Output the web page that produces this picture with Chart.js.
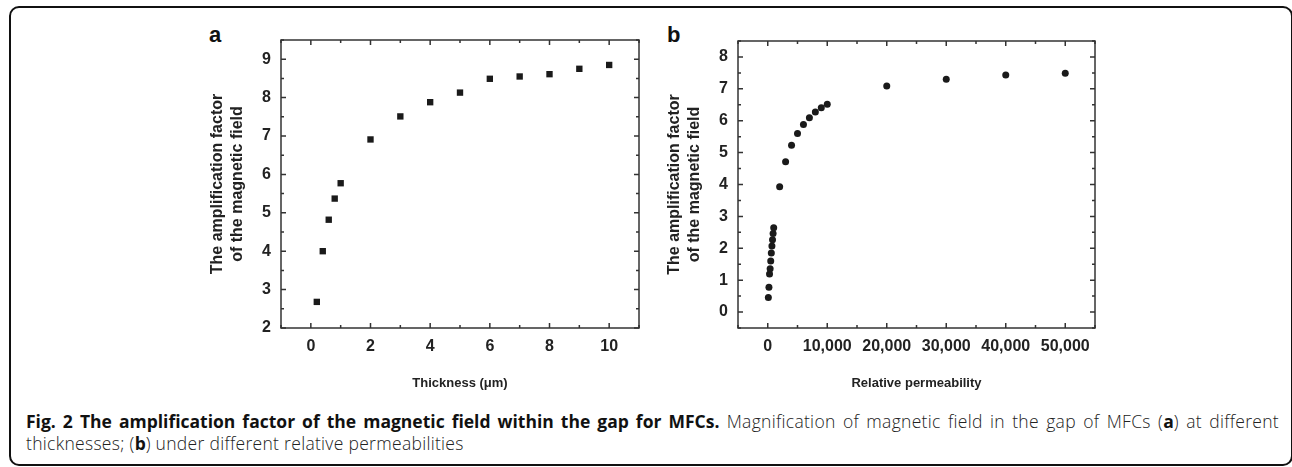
<!DOCTYPE html>
<html lang="en">
<head>
<meta charset="UTF-8">
<title>Fig. 2 amplification factor</title>
<script src="https://cdn.jsdelivr.net/npm/chart.js@4"></script>
<style>
  body { margin: 0; background: #fff; width: 1292px; height: 467px; overflow: hidden; position: relative; }
  .frame { position: absolute; left: 9px; top: 6px; width: 1284px; height: 460px; box-sizing: border-box;
           border: 2px solid #111; border-radius: 10px; }
  canvas { position: absolute; }
  .panel { position: absolute; font: bold 22px "Liberation Sans", Arial, sans-serif; color: #111; }
  .caption { position: absolute; left: 26px; top: 410px; font: 300 17.5px "Open Sans", sans-serif; color: #222;
             line-height: 22px; white-space: nowrap; letter-spacing: 0.3px; }
  .caption .l1 { width: 1253px; text-align: justify; text-align-last: justify; }
  .caption b { color: #111; font-weight: 700; letter-spacing: 0; }
</style>
</head>
<body>
<div class="frame"></div>
<div class="panel" style="left:209px; top:22px;">a</div>
<div class="panel" style="left:667px; top:22px;">b</div>
<div style="position:absolute; left:150px; top:0; width:510px; height:400px;"><canvas id="chartA"></canvas></div>
<div style="position:absolute; left:660px; top:0; width:460px; height:400px;"><canvas id="chartB"></canvas></div>
<div class="caption">
  <div class="l1"><b>Fig. 2 The amplification factor of the magnetic field within the gap for MFCs.</b> Magnification of magnetic field in the gap of MFCs (<b>a</b>) at different</div>
  <div>thicknesses; (<b>b</b>) under different relative permeabilities</div>
</div>

<script>
// panel a: thickness in um
var thickness = [0.2, 0.4, 0.6, 0.8, 1, 2, 3, 4, 5, 6, 7, 8, 9, 10];
var factorA = [2.68, 4.0, 4.82, 5.37, 5.77, 6.91, 7.51, 7.88, 8.13, 8.49, 8.55, 8.61, 8.75, 8.85];

// panel b: relative permeability
var permeability = [100, 200, 300, 400, 500, 600, 700, 800, 900, 1000,
                    2000, 3000, 4000, 5000, 6000, 7000, 8000, 9000, 10000,
                    20000, 30000, 40000, 50000];
var factorB = [0.46, 0.78, 1.19, 1.36, 1.60, 1.85, 2.07, 2.27, 2.46, 2.64,
               3.93, 4.71, 5.23, 5.60, 5.88, 6.09, 6.27, 6.41, 6.52,
               7.09, 7.30, 7.43, 7.49];

var yTitle = ["The amplification factor", "of the magnetic field"];
var xTitleA = "Thickness (\u03bcm)";
var xTitleB = "Relative permeability";

Chart.defaults.font.family = '"Liberation Sans", Arial, sans-serif';
Chart.defaults.color = '#222';

function toPoints(xs, ys) {
  return xs.map((x, i) => ({ x: x, y: ys[i] }));
}

// box around the plot with inward ticks on all four sides
const boxTicks = {
  id: 'boxTicks',
  afterDraw(chart) {
    const { ctx, chartArea: a, scales } = chart;
    ctx.save();
    ctx.strokeStyle = '#333';
    ctx.lineWidth = 1.5;
    ctx.strokeRect(a.left, a.top, a.right - a.left, a.bottom - a.top);
    ctx.beginPath();
    scales.x.ticks.forEach(t => {
      const px = scales.x.getPixelForValue(t.value);
      const len = t.label ? 5 : 3;
      ctx.moveTo(px, a.bottom); ctx.lineTo(px, a.bottom - len);
      ctx.moveTo(px, a.top); ctx.lineTo(px, a.top + len);
    });
    scales.y.ticks.forEach(t => {
      const py = scales.y.getPixelForValue(t.value);
      const len = t.label ? 5 : 3;
      ctx.moveTo(a.left, py); ctx.lineTo(a.left + len, py);
      ctx.moveTo(a.right, py); ctx.lineTo(a.right - len, py);
    });
    ctx.stroke();
    ctx.restore();
  }
};

function makeChart(id, xs, ys, opts) {
  return new Chart(document.getElementById(id), {
    type: 'scatter',
    data: {
      datasets: [{
        data: toPoints(xs, ys),
        pointStyle: opts.pointStyle,
        pointRadius: opts.radius,
        backgroundColor: '#1a1a1a',
        borderColor: '#1a1a1a',
        borderWidth: 0
      }]
    },
    options: {
      responsive: true,
      maintainAspectRatio: false,
      animation: false,
      layout: { padding: opts.padding },
      plugins: { legend: { display: false }, tooltip: { enabled: false } },
      scales: {
        x: {
          type: 'linear',
          min: opts.xMin, max: opts.xMax,
          grid: { display: false, drawTicks: false },
          border: { display: false },
          afterFit: s => { s.height = 72; },
          ticks: {
            stepSize: opts.xStep,
            padding: 9,
            font: { size: 16, weight: 'bold' },
            maxRotation: 0,
            autoSkip: false,
            callback: opts.xLabel
          },
          title: { display: true, text: opts.xTitle, font: { size: 13, weight: 'bold' }, padding: { top: 0, bottom: 9 } }
        },
        y: {
          type: 'linear',
          min: opts.yMin, max: opts.yMax,
          grid: { display: false, drawTicks: false },
          border: { display: false },
          afterFit: s => { s.width = 73; },
          ticks: {
            stepSize: 0.5,
            padding: 10,
            font: { size: 16, weight: 'bold' },
            autoSkip: false,
            callback: v => Number.isInteger(v) ? String(v) : ''
          },
          title: { display: true, text: yTitle, font: { size: 16, weight: 'bold', lineHeight: 1.25 }, padding: { top: 0, bottom: 0 } }
        }
      }
    },
    plugins: [boxTicks]
  });
}

makeChart('chartA', thickness, factorA, {
  pointStyle: 'rect', radius: 4.5,
  padding: { left: 58, top: 40, right: 21, bottom: 0 },
  xMin: -1, xMax: 11, xStep: 1,
  xLabel: v => (v >= 0 && v % 2 === 0) ? String(v) : '',
  xTitle: xTitleA,
  yMin: 2, yMax: 9.5
});

makeChart('chartB', permeability, factorB, {
  pointStyle: 'circle', radius: 3.5,
  padding: { left: 5, top: 41, right: 25, bottom: 0 },
  xMin: -5000, xMax: 55000, xStep: 5000,
  xLabel: v => (v >= 0 && v % 10000 === 0) ? v.toLocaleString('en-US') : '',
  xTitle: xTitleB,
  yMin: -0.5, yMax: 8.5
});
</script>
</body>
</html>
